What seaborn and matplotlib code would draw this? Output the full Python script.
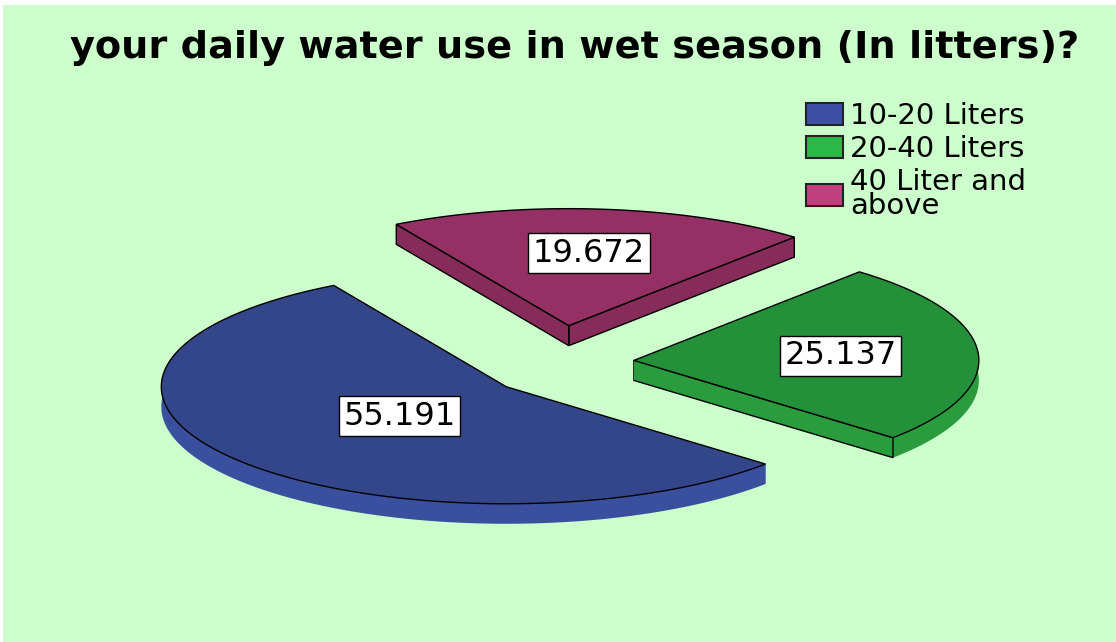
import numpy as np
import matplotlib.pyplot as plt
import seaborn as sns
from matplotlib.patches import Polygon, Patch

# data
categories = ["10-20 Liters", "20-40 Liters", "40 Liter and\nabove"]
percent = [55.191, 25.137, 19.672]
value_labels = ["55.191", "25.137", "19.672"]
title = "your daily water use in wet season (In litters)?"

sns.set_theme(style="white")
plt.rcParams["font.family"] = ["DejaVu Sans"]

top_colors = ["#33468a", "#24913a", "#943063"]
side_colors = ["#3a509e", "#2a9c3e", "#862b5a"]
legend_colors = ["#3c4fa5", "#2db84a", "#c0407f"]

fig = plt.figure(figsize=(11.16, 6.42), dpi=100)
fig.patch.set_facecolor("white")
ax = fig.add_axes([3 / 1116, 0, 1 - 3 / 1116, 1 - 5 / 642])
ax.set_facecolor("#ccffcc")
ax.set_xlim(3, 1116)
ax.set_ylim(642, 5)
ax.set_xticks([])
ax.set_yticks([])
for s in ax.spines.values():
    s.set_visible(False)

# pseudo-3d pie geometry (pixel space)
cx, cy = 562, 363
rx, ry = 345, 117
thick = 20
ex, ey = 72, 37.5
label_r = [0.4, 0.6, 0.62]

fracs = np.array(percent) / np.sum(percent)
start = 120 + 360 * np.concatenate([[0], np.cumsum(fracs)[:-1]])
end = start + 360 * fracs
mid = np.radians((start + end) / 2)
apx = cx + ex * np.cos(mid)
apy = cy - ey * np.sin(mid)

for i in np.argsort(apy):
    th = np.radians(np.linspace(start[i], end[i], 300))
    arc_x = apx[i] + rx * np.cos(th)
    arc_y = apy[i] - ry * np.sin(th)

    # curved outer side
    side = np.column_stack([np.r_[arc_x, arc_x[::-1]],
                            np.r_[arc_y, arc_y[::-1] + thick]])
    ax.add_patch(Polygon(side, closed=True, fc=side_colors[i], ec="none"))

    # radial faces, only those turned to the viewer get outlined
    for ang, ok in [(start[i], np.cos(np.radians(start[i])) > 0),
                    (end[i], np.cos(np.radians(end[i])) < 0)]:
        a = np.radians(ang)
        px, py = apx[i] + rx * np.cos(a), apy[i] - ry * np.sin(a)
        quad = [(apx[i], apy[i]), (px, py), (px, py + thick), (apx[i], apy[i] + thick)]
        ax.add_patch(Polygon(quad, closed=True, fc=side_colors[i],
                             ec="black" if ok else "none", lw=1.0))

    top = np.column_stack([np.r_[apx[i], arc_x], np.r_[apy[i], arc_y]])
    ax.add_patch(Polygon(top, closed=True, fc=top_colors[i], ec="black", lw=1.0))

    lx = apx[i] + label_r[i] * rx * np.cos(mid[i])
    ly = apy[i] - label_r[i] * ry * np.sin(mid[i])
    ax.text(lx, ly, value_labels[i], ha="center", va="center", fontsize=23,
            color="black",
            bbox=dict(boxstyle="square,pad=0.14", fc="white", ec="black", lw=1.0))

ax.text(575, 48, title, ha="center", va="center", fontsize=27.5,
        fontweight="bold", color="black")

handles = [Patch(fc=c, ec="#222222", lw=1.5) for c in legend_colors]
leg = ax.legend(handles, categories, loc="upper left", bbox_to_anchor=(806, 102),
                bbox_transform=ax.transData, frameon=False, fontsize=21,
                handlelength=1.27, handleheight=0.8, handletextpad=0.25,
                labelspacing=0.18, borderaxespad=0, borderpad=0)
for t in leg.get_texts():
    t.set_color("black")
    t.set_linespacing(0.8)

fig.savefig("out.png", dpi=100)
